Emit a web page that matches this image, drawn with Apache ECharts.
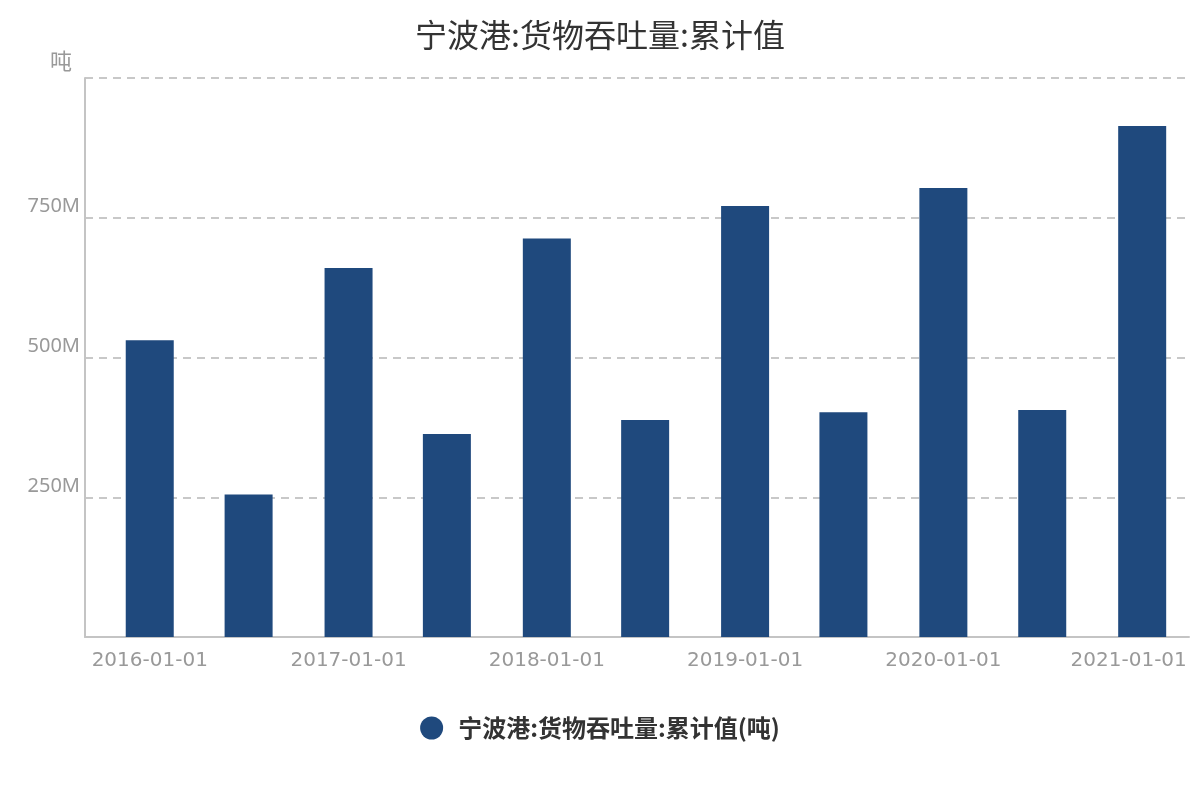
<!DOCTYPE html>
<html><head><meta charset="utf-8">
<script src="https://cdn.jsdelivr.net/npm/echarts@6/dist/echarts.min.js"></script>
<style>html,body{margin:0;padding:0;background:#fff}#main{width:1200px;height:800px}</style>
</head><body><div id="main"></div>
<script>
const dates = ['2016-01-01','2016-07-01','2017-01-01','2017-07-01','2018-01-01','2018-07-01','2019-01-01','2019-07-01','2020-01-01','2020-07-01','2021-01-01'];
const values = [531e6, 255e6, 660e6, 363e6, 713e6, 388e6, 771e6, 402e6, 803e6, 406e6, 914e6];
const titleText = '宁波港:货物吞吐量:累计值';
const seriesName = '宁波港:货物吞吐量:累计值(吨)';
const unitName = '吨';
const yMin = 0, yMax = 1000e6, yInterval = 250e6;
// ECharts widens a bar base axis by half a bar on each side; these are the pre-widening bounds
const xAxisMin = '2015-10-18';
const xAxisMax = '2021-02-12';
const lastLabel = '2021-01-01';

function toTs(s){ const p = s.split('-').map(Number); return new Date(p[0], p[1]-1, p[2]).getTime(); }
const FONT = "'Noto Sans CJK SC', 'Noto Sans', sans-serif";
const chart = echarts.init(document.getElementById('main'));
chart.setOption({
  backgroundColor: '#fff',
  textStyle: { fontFamily: FONT },
  title: { text: titleText, left: 'center', top: 14, textStyle: { fontSize: 32, fontWeight: 'normal', color: '#333', fontFamily: FONT } },
  legend: { bottom: 55, left: 'center', icon: 'circle', itemWidth: 23, itemHeight: 23,
    textStyle: { fontSize: 24, fontWeight: 'bold', color: '#333', fontFamily: FONT, padding: [0,0,0,10] } },
  grid: { left: 85, right: 11, top: 78, bottom: 163 },
  xAxis: {
    type: 'time', min: toTs(xAxisMin), max: toTs(xAxisMax),
    minInterval: 360*86400000, splitNumber: 5,
    axisLine: { lineStyle: { color: '#c4c4c4', width: 2 } },
    axisTick: { show: false }, splitLine: { show: false },
    axisLabel: {
      showMinLabel: false, showMaxLabel: false, margin: 14,
      fontSize: 20, color: '#999', fontFamily: "'DejaVu Sans', sans-serif",
      formatter: function(v){ const s = echarts.time.format(v, '{yyyy}-{MM}-{dd}', false); return s === lastLabel ? '{last|' + s + '}' : s; },
      rich: { last: { fontSize: 20, color: '#999', fontFamily: "'DejaVu Sans', sans-serif", padding: [0, 27, 0, 0] } }
    }
  },
  yAxis: {
    type: 'value', min: yMin, max: yMax, interval: yInterval,
    name: unitName, nameLocation: 'end', nameGap: 6,
    nameTextStyle: { fontSize: 22, color: '#999', align: 'right', padding: [0, 13, 0, 0], fontFamily: FONT },
    axisLine: { show: true, lineStyle: { color: '#c4c4c4', width: 2 } },
    axisTick: { show: false },
    splitLine: { lineStyle: { color: '#c8c8c8', type: [8, 6], width: 2 } },
    axisLabel: { showMinLabel: false, showMaxLabel: false, margin: 5, fontSize: 20, lineHeight: 22, color: '#999', verticalAlign: 'bottom', fontFamily: "'Noto Sans', sans-serif",
      formatter: function(v){ return (v/1e6) + 'M'; } }
  },
  series: [{
    name: seriesName, type: 'bar', barWidth: 48,
    itemStyle: { color: '#1f497d' },
    data: dates.map((d, i) => [toTs(d), values[i]])
  }]
});
</script></body></html>
